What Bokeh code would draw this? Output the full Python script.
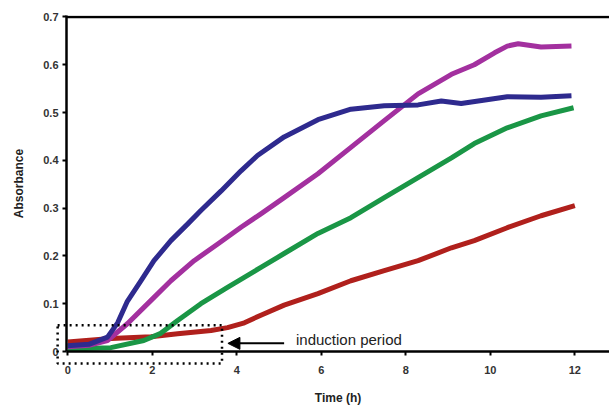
from bokeh.plotting import figure
from bokeh.embed import file_html
from bokeh.resources import INLINE
from bokeh.models import Range1d, FixedTicker, Arrow, NormalHead, Label

# Data (time in h, absorbance)
t_blue = [0.0, 0.5, 0.94, 1.18, 1.41, 1.73, 2.04, 2.44, 2.84, 3.15, 3.63, 4.1, 4.49, 5.12, 5.92, 6.7, 7.49, 8.29, 8.84, 9.31, 10.4, 11.2, 11.92]
a_blue = [0.012, 0.015, 0.03, 0.06, 0.105, 0.148, 0.19, 0.232, 0.267, 0.295, 0.336, 0.378, 0.41, 0.449, 0.485, 0.507, 0.514, 0.516, 0.524, 0.519, 0.533, 0.532, 0.535]

t_mag = [0.0, 0.5, 0.94, 1.41, 1.97, 2.44, 2.99, 3.55, 4.1, 4.57, 5.12, 5.92, 6.7, 7.49, 8.29, 9.08, 9.62, 10.1, 10.4, 10.66, 11.2, 11.92]
a_mag = [0.01, 0.013, 0.023, 0.058, 0.107, 0.148, 0.19, 0.225, 0.26, 0.288, 0.322, 0.372, 0.427, 0.483, 0.539, 0.58, 0.60, 0.625, 0.639, 0.644, 0.637, 0.639]

t_green = [0.0, 1.02, 1.8, 2.2, 2.6, 3.15, 3.78, 4.57, 5.12, 5.92, 6.7, 7.49, 8.29, 9.08, 9.62, 10.4, 11.2, 11.97]
a_green = [0.005, 0.008, 0.023, 0.038, 0.065, 0.1, 0.134, 0.176, 0.205, 0.247, 0.28, 0.322, 0.364, 0.405, 0.435, 0.468, 0.493, 0.51]

t_red = [0.0, 1.02, 1.97, 2.6, 3.39, 3.78, 4.18, 4.57, 5.12, 5.92, 6.7, 7.49, 8.29, 9.08, 9.62, 10.4, 11.2, 12.0]
a_red = [0.02, 0.027, 0.031, 0.037, 0.044, 0.05, 0.06, 0.076, 0.097, 0.121, 0.148, 0.169, 0.19, 0.217, 0.232, 0.259, 0.284, 0.305]

x_ticks = [0, 2, 4, 6, 8, 10, 12]
y_ticks = [0, 0.1, 0.2, 0.3, 0.4, 0.5, 0.6, 0.7]
y_tick_labels = ["0", "0.1", "0.2", "0.3", "0.4", "0.5", "0.6", "0.7"]

# induction-period annotation box (data units)
box_left, box_right, box_bottom, box_top = -0.24, 3.65, -0.025, 0.055
arrow_from, arrow_to, arrow_y = 5.12, 3.79, 0.017
note_x, note_y = 5.4, 0.025

X_START, X_END, Y_START, Y_END = -0.03, 12.82, 0.0, 0.703

p = figure(width=609, height=412, output_backend="svg", toolbar_location=None,
           x_range=Range1d(X_START, X_END), y_range=Range1d(Y_START, Y_END),
           min_border_left=66, min_border_right=0, min_border_top=15, min_border_bottom=61)
p.outline_line_color = None
p.grid.grid_line_color = None
p.background_fill_color = "white"

font = "Liberation Sans"
p.xaxis.ticker = FixedTicker(ticks=x_ticks)
p.yaxis.ticker = FixedTicker(ticks=y_ticks)
p.yaxis.major_label_overrides = {v: s for v, s in zip(y_ticks, y_tick_labels)}
for ax in (p.xaxis, p.yaxis):
    ax.axis_line_width = 2.5
    ax.axis_line_color = "black"
    ax.major_tick_line_width = 2
    ax.major_tick_out = 4
    ax.major_tick_in = 0
    ax.minor_tick_line_color = None
    ax.major_label_text_font = font
    ax.major_label_text_font_style = "bold"
    ax.major_label_text_font_size = "11px"
    ax.major_label_text_color = "#333333"
    ax.axis_label_text_font = font
    ax.axis_label_text_font_style = "bold"
    ax.axis_label_text_font_size = "12px"
    ax.axis_label_text_color = "#222222"
p.xaxis.major_label_standoff = 10
p.xaxis.axis_label_standoff = 14
p.yaxis.major_label_standoff = 4
p.yaxis.axis_label_standoff = 14
p.xaxis.axis_label = "Time (h)"
p.yaxis.axis_label = "Absorbance"

# top frame line
p.segment(x0=[X_START], y0=[0.7], x1=[X_END], y1=[0.7], line_color="black", line_width=2.5)

lw = 5
p.line(t_red, a_red, line_color="#b0201c", line_width=lw, line_join="round")
p.line(t_green, a_green, line_color="#1a9646", line_width=lw, line_join="round")
p.line(t_mag, a_mag, line_color="#a3309f", line_width=lw, line_join="round")
p.line(t_blue, a_blue, line_color="#2e2a8e", line_width=lw, line_join="round")

p.quad(left=[box_left], right=[box_right], bottom=[box_bottom], top=[box_top],
       fill_color=None, line_color="black", line_width=2.5, line_dash="dotted",
       level="overlay")

p.add_layout(Arrow(end=NormalHead(size=12, fill_color="black", line_color="black"),
                   x_start=arrow_from, y_start=arrow_y, x_end=arrow_to, y_end=arrow_y,
                   line_width=2, line_color="black"))
p.add_layout(Label(x=note_x, y=note_y, text="induction period", text_font=font,
                   text_font_size="15px", text_color="#222222", text_baseline="middle"))

open("out.html", "w").write(file_html(p, INLINE))
